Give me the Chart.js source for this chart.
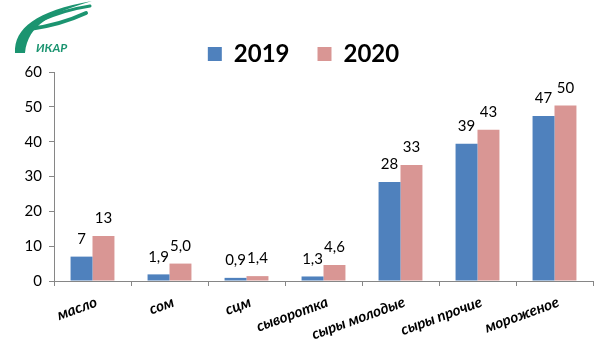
<!DOCTYPE html>
<html>
<head>
<meta charset="utf-8">
<script src="https://cdn.jsdelivr.net/npm/chart.js@4"></script>
<style>
  html, body { margin: 0; padding: 0; background: #fff; }
  #wrap { width: 600px; height: 360px; }
</style>
</head>
<body>
<div id="wrap"><canvas id="chart" width="600" height="360"></canvas></div>
<script>
const categories = ['масло', 'сом', 'сцм', 'сыворотка', 'сыры молодые', 'сыры прочие', 'мороженое'];
const values2019 = [7.0, 1.9, 0.9, 1.3, 28.4, 39.4, 47.4];
const values2020 = [12.9, 5.0, 1.4, 4.6, 33.3, 43.4, 50.4];
const labels2019 = ['7', '1,9', '0,9', '1,3', '28', '39', '47'];
const labels2020 = ['13', '5,0', '1,4', '4,6', '33', '43', '50'];
const yTicks = [0, 10, 20, 30, 40, 50, 60];

const axisColor = '#868686';

// value labels above the bars
const barLabels = {
    id: 'barLabels',
    afterDatasetsDraw(chart) {
        const ctx = chart.ctx;
        const texts = [labels2019, labels2020];
        ctx.save();
        ctx.font = '15px Lato';
        ctx.fillStyle = '#000';
        ctx.textAlign = 'center';
        ctx.textBaseline = 'bottom';
        chart.data.datasets.forEach((ds, i) => {
            chart.getDatasetMeta(i).data.forEach((bar, j) => {
                ctx.fillText(texts[i][j], bar.x, bar.y - 10);
            });
        });
        ctx.restore();
    }
};

// logo in the corner
const logo = {
    id: 'logo',
    afterDraw(chart) {
        const ctx = chart.ctx;
        ctx.save();
        ctx.fillStyle = '#1b9470';
        ctx.strokeStyle = '#1b9470';
        ctx.beginPath();
        ctx.moveTo(15, 53);
        ctx.bezierCurveTo(14, 28, 36, 11, 92, 1);
        ctx.bezierCurveTo(52, 13, 28, 24, 25, 53);
        ctx.closePath();
        ctx.fill();
        ctx.lineCap = 'round';
        ctx.lineWidth = 3;
        ctx.beginPath();
        ctx.moveTo(42, 20);
        ctx.quadraticCurveTo(64, 10, 90, 6);
        ctx.stroke();
        ctx.lineWidth = 4;
        ctx.beginPath();
        ctx.moveTo(30, 29);
        ctx.quadraticCurveTo(60, 25, 86, 13);
        ctx.stroke();
        ctx.font = 'italic bold 12px Lato';
        ctx.textBaseline = 'alphabetic';
        ctx.fillText('ИКАР', 36, 52);
        ctx.restore();
    }
};

// fix legend height so the plot starts where it should
const legendHeight = {
    id: 'legendHeight',
    beforeInit(chart) {
        const origFit = chart.legend.fit;
        chart.legend.fit = function () {
            origFit.bind(chart.legend)();
            this.height = 58;
        };
    }
};

new Chart(document.getElementById('chart'), {
    type: 'bar',
    data: {
        labels: categories,
        datasets: [
            {
                label: '2019',
                data: values2019,
                backgroundColor: '#4f81bd',
                categoryPercentage: 0.57,
                barPercentage: 1
            },
            {
                label: '2020',
                data: values2020,
                backgroundColor: '#d99694',
                categoryPercentage: 0.57,
                barPercentage: 1
            }
        ]
    },
    options: {
        responsive: false,
        animation: false,
        layout: { padding: { left: 14, right: 7, top: 14, bottom: 0 } },
        plugins: {
            legend: {
                position: 'top',
                labels: {
                    boxWidth: 14,
                    boxHeight: 14,
                    padding: 28,
                    color: '#000',
                    font: { family: 'Lato', size: 24, weight: 'bold' }
                }
            },
            tooltip: { enabled: false }
        },
        scales: {
            x: {
                grid: { drawOnChartArea: false, tickLength: 5, color: axisColor },
                border: { color: axisColor },
                ticks: {
                    autoSkip: false,
                    minRotation: 20,
                    maxRotation: 20,
                    padding: 7,
                    labelOffset: 4,
                    color: '#000',
                    font: { family: 'Lato', size: 15, style: 'italic', weight: 'bold' }
                },
                afterFit(scale) { scale.height = 79; }
            },
            y: {
                min: 0,
                max: 60,
                afterBuildTicks(scale) { scale.ticks = yTicks.map(v => ({ value: v })); },
                grid: { drawOnChartArea: false, tickLength: 5, color: axisColor },
                border: { color: axisColor },
                ticks: {
                    color: '#000',
                    padding: 7,
                    font: { family: 'Lato', size: 15 }
                },
                afterFit(scale) { scale.width = 40; }
            }
        }
    },
    plugins: [barLabels, logo, legendHeight]
});
</script>
</body>
</html>
